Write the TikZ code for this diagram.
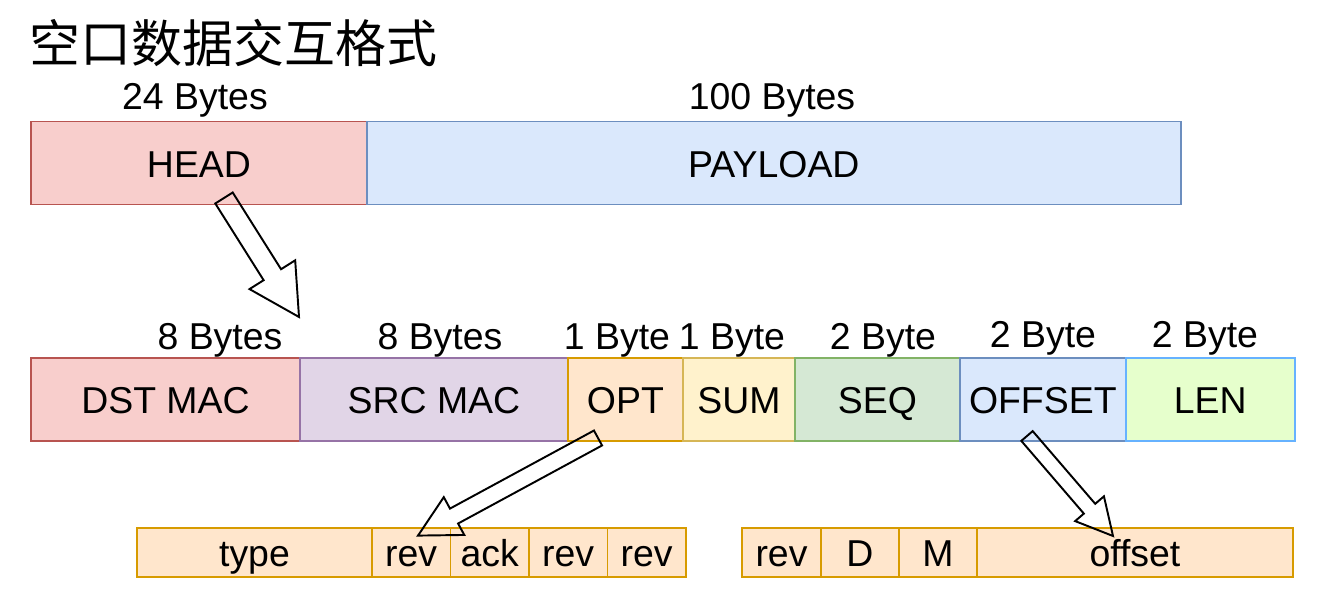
\documentclass[tikz,border=0pt]{standalone}
\usepackage{fontspec}
\setmainfont{Liberation Sans}
\newfontfamily\cjkfont{Noto Sans CJK SC}
\usetikzlibrary{positioning,calc}

\definecolor{redfill}{HTML}{F8CECC}
\definecolor{redline}{HTML}{B85450}
\definecolor{bluefill}{HTML}{DAE8FC}
\definecolor{blueline}{HTML}{6C8EBF}
\definecolor{purplefill}{HTML}{E1D5E7}
\definecolor{purpleline}{HTML}{9673A6}
\definecolor{orangefill}{HTML}{FFE6CC}
\definecolor{orangeline}{HTML}{D79B00}
\definecolor{yellowfill}{HTML}{FFF2CC}
\definecolor{yellowline}{HTML}{D6B656}
\definecolor{greenfill}{HTML}{D5E8D4}
\definecolor{greenline}{HTML}{82B366}
\definecolor{limefill}{HTML}{E6FFCC}
\definecolor{limeline}{HTML}{66B2FF}

\tikzset{
  field/.style={draw, line width=1pt, outer sep=0pt, inner sep=0pt,
    minimum height=1.66cm, text height=16pt, text depth=0pt,
    font=\fontsize{21.3}{25}\selectfont},
  subfield/.style={field, fill=orangefill, draw=orangeline, minimum height=0.98cm},
  bytes/.style={inner sep=0pt, anchor=base, font=\fontsize{21.3}{25}\selectfont},
  arrowline/.style={draw=black, line width=1.1pt, line join=miter}
}

% block arrow: tail, tip, half shaft width, half head width, head length
\newcommand{\flexarrow}[5]{%
  \draw[arrowline] ($(#1)!#3!90:(#2)$) -- ($(#2)!#5!(#1)!#3!-90:(#1)$)
    -- ($(#2)!#5!(#1)!#4!-90:(#1)$) -- (#2)
    -- ($(#2)!#5!(#1)!#4!90:(#1)$) -- ($(#2)!#5!(#1)!#3!90:(#1)$)
    -- ($(#1)!#3!-90:(#2)$) -- cycle;}

\begin{document}
\begin{tikzpicture}[x=0.02cm, y=-0.02cm]
  \useasboundingbox (0,0) rectangle (1335,590);

  % title
  \node[anchor=west, inner sep=0pt, font=\cjkfont\fontsize{29}{32}\selectfont] (title) at (29,43) {空口数据交互格式};

  % frame
  \node[field, fill=redfill, draw=redline, minimum width=6.72cm, anchor=west] (head) at (31,163) {HEAD};
  \node[field, fill=bluefill, draw=blueline, minimum width=16.28cm, right=0pt of head] (payload) {PAYLOAD};

  \node[bytes] (headlen) at (195,110) {24 Bytes};
  \node[bytes] (paylen) at (772,110) {100 Bytes};

  % head fields
  \node[field, fill=redfill, draw=redline, minimum width=5.38cm, anchor=west] (dst) at (31,399.5) {DST MAC};
  \node[field, fill=purplefill, draw=purpleline, minimum width=5.36cm, right=0pt of dst] (src) {SRC MAC};
  \node[field, fill=orangefill, draw=orangeline, minimum width=2.30cm, right=0pt of src] (opt) {OPT};
  \node[field, fill=yellowfill, draw=yellowline, minimum width=2.24cm, right=0pt of opt] (sum) {SUM};
  \node[field, fill=greenfill, draw=greenline, minimum width=3.30cm, right=0pt of sum] (seq) {SEQ};
  \node[field, fill=bluefill, draw=blueline, minimum width=3.32cm, right=0pt of seq] (offset) {OFFSET};
  \node[field, fill=limefill, draw=limeline, minimum width=3.38cm, right=0pt of offset] (len) {LEN};

  \node[bytes] (dstlen) at (220,350) {8 Bytes};
  \node[bytes] (srclen) at (440,350) {8 Bytes};
  \node[bytes] (optlen) at (617,350) {1 Byte};
  \node[bytes] (sumlen) at (732,350) {1 Byte};
  \node[bytes] (seqlen) at (883,350) {2 Byte};
  \node[bytes] (offlen) at (1043,348) {2 Byte};
  \node[bytes] (lenlen) at (1205,348) {2 Byte};

  % opt bits
  \node[subfield, minimum width=4.70cm, anchor=west] (type) at (137,552.5) {type};
  \node[subfield, minimum width=1.57cm, right=0pt of type] (rev1) {rev};
  \node[subfield, minimum width=1.57cm, right=0pt of rev1] (ack) {ack};
  \node[subfield, minimum width=1.57cm, right=0pt of ack] (rev2) {rev};
  \node[subfield, minimum width=1.57cm, right=0pt of rev2] (rev3) {rev};

  % offset bits
  \node[subfield, minimum width=1.58cm, anchor=west] (rev4) at (742,552.5) {rev};
  \node[subfield, minimum width=1.56cm, right=0pt of rev4] (dflag) {D};
  \node[subfield, minimum width=1.56cm, right=0pt of dflag] (mflag) {M};
  \node[subfield, minimum width=6.32cm, right=0pt of mflag] (offval) {offset};

  % arrows
  \coordinate (headtail) at (224,198);
  \coordinate (headtip) at (299,317);
  \coordinate (opttail) at (598,438);
  \coordinate (opttip) at (418,535.6);
  \coordinate (offtail) at (1027,436);
  \coordinate (offtip) at (1113,536);

  \flexarrow{headtail}{headtip}{0.206cm}{0.54cm}{1.0cm}
  \flexarrow{opttail}{opttip}{0.17cm}{0.43cm}{0.82cm}
  \flexarrow{offtail}{offtip}{0.15cm}{0.38cm}{0.72cm}
\end{tikzpicture}
\end{document}
